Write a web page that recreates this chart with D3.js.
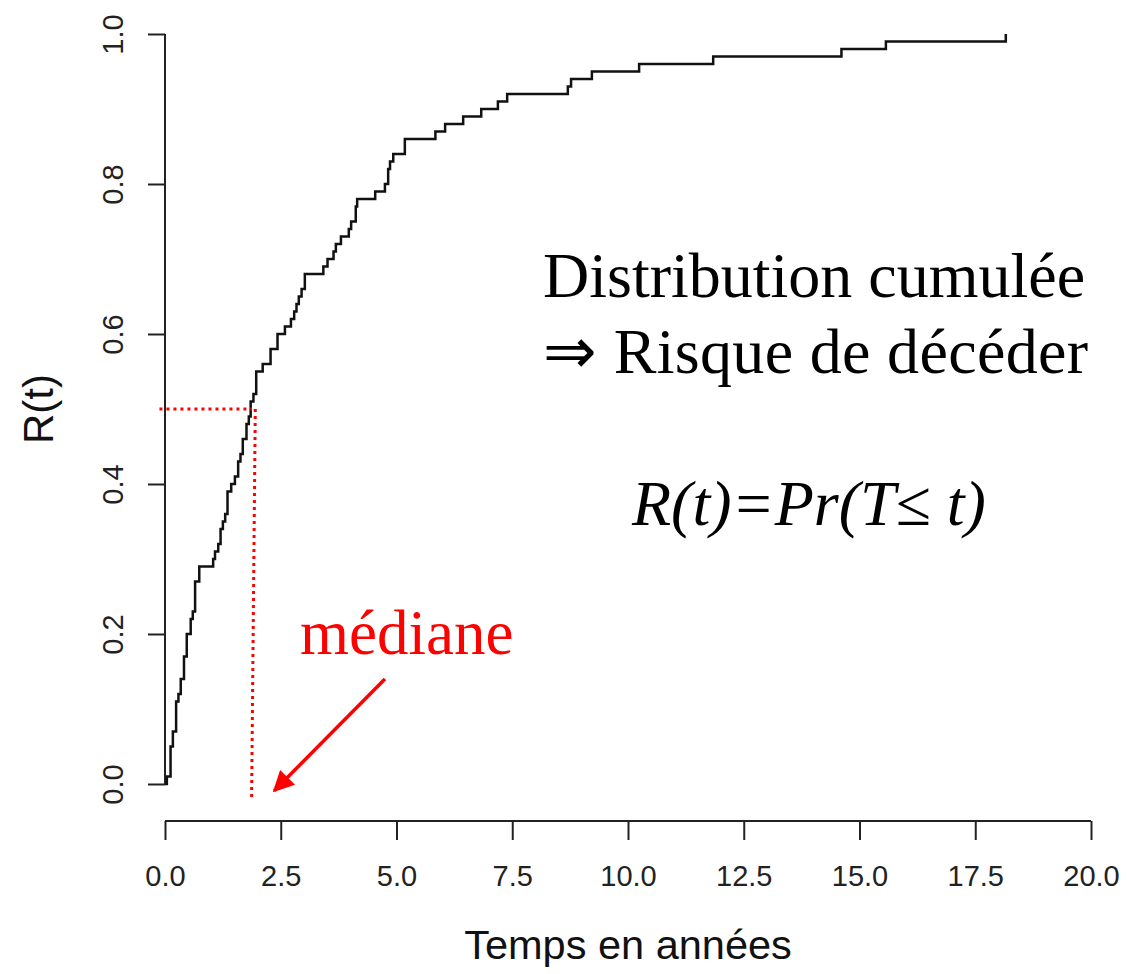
<!DOCTYPE html>
<html>
<head>
<meta charset="utf-8">
<script src="https://cdn.jsdelivr.net/npm/d3@7"></script>
<style>
  html, body { margin: 0; padding: 0; background: #fff; }
  svg { display: block; }
</style>
</head>
<body>
<svg id="chart" width="1127" height="974"></svg>
<script>
// ---- Data ----
const times = [0, 0.04, 0.12, 0.17, 0.24, 0.29, 0.34, 0.41, 0.47, 0.555, 0.6, 0.65, 0.74, 1.04, 1.08, 1.15, 1.20, 1.25, 1.30, 1.35, 1.43, 1.51, 1.58, 1.63, 1.68, 1.76, 1.81, 1.85, 1.91, 1.97, 2.11, 2.28, 2.43, 2.59, 2.72, 2.79, 2.84, 2.89, 2.95, 3.02, 3.42, 3.51, 3.64, 3.69, 3.80, 3.97, 4.02, 4.12, 4.15, 4.54, 4.75, 4.82, 4.86, 4.93, 5.18, 5.84, 6.05, 6.44, 6.83, 7.19, 7.39, 8.70, 8.77, 9.22, 10.24, 11.84, 14.61, 15.57, 18.16];
const risk = [0, 0.01, 0.05, 0.07, 0.11, 0.12, 0.14, 0.17, 0.20, 0.22, 0.23, 0.27, 0.29, 0.30, 0.31, 0.32, 0.34, 0.35, 0.36, 0.39, 0.40, 0.41, 0.43, 0.44, 0.46, 0.48, 0.49, 0.51, 0.52, 0.55, 0.56, 0.58, 0.60, 0.61, 0.62, 0.63, 0.64, 0.65, 0.66, 0.68, 0.69, 0.70, 0.71, 0.72, 0.73, 0.74, 0.75, 0.77, 0.78, 0.79, 0.80, 0.82, 0.83, 0.84, 0.86, 0.87, 0.88, 0.89, 0.90, 0.91, 0.92, 0.93, 0.94, 0.95, 0.96, 0.97, 0.98, 0.99, 1.0];
const xTicks = [0, 2.5, 5, 7.5, 10, 12.5, 15, 17.5, 20];
const yTicks = [0, 0.2, 0.4, 0.6, 0.8, 1.0];
const medianT = 1.9;
const medianR = 0.5;
const xTitle = "Temps en années";
const yTitle = "R(t)";
const textLine1 = "Distribution cumulée";
const textLine2 = "\u21D2 Risque de décéder";
const formula = "R(t)=Pr(T\u2264 t)";
const medianLabel = "médiane";

// ---- Layout ----
const svg = d3.select("#chart");
const x = d3.scaleLinear().domain([0, 20]).range([165, 1091]);
const y = d3.scaleLinear().domain([0, 1]).range([784, 34]);
const axisFont = "'Liberation Sans', Arial, sans-serif";
const serif = "'Liberation Serif', 'Times New Roman', serif";

// X axis (R style, offset below plot)
const xAxisG = svg.append("g").attr("transform", "translate(0,821)")
  .call(d3.axisBottom(x).tickValues(xTicks).tickSize(19).tickPadding(37)
    .tickFormat(d3.format(".1f")));
xAxisG.select(".domain").attr("d", `M${x(0)},0H${x(20)}`);
xAxisG.selectAll("path, line").attr("stroke", "#222").attr("stroke-width", 2);
xAxisG.selectAll("text").attr("font-family", axisFont).attr("font-size", 29)
  .attr("fill", "#222").attr("dy", "0.32em");

// Y axis
const yAxisG = svg.append("g").attr("transform", `translate(${x(0)},0)`)
  .call(d3.axisLeft(y).tickValues(yTicks).tickSize(17).tickPadding(0)
    .tickFormat(d3.format(".1f")));
yAxisG.select(".domain").attr("d", `M0,${y(0)}V${y(1)}`);
yAxisG.selectAll("path, line").attr("stroke", "#222").attr("stroke-width", 2);
yAxisG.selectAll(".tick text")
  .attr("font-family", axisFont).attr("font-size", 29).attr("fill", "#222")
  .attr("text-anchor", "middle").attr("x", null).attr("dy", null)
  .attr("transform", "translate(-52,0) rotate(-90)")
  .attr("dominant-baseline", "central");

// Axis titles
svg.append("text").attr("x", 628).attr("y", 959)
  .attr("text-anchor", "middle").attr("font-family", axisFont)
  .attr("font-size", 41.5).attr("fill", "#111").text(xTitle);
svg.append("text").attr("transform", `translate(53,${y(0.5)}) rotate(-90)`)
  .attr("text-anchor", "middle").attr("font-family", axisFont)
  .attr("font-size", 42).attr("fill", "#111").text(yTitle);

// Step curve
const pts = times.map((t, i) => [t, risk[i]]);
svg.append("path").datum(pts)
  .attr("d", d3.line().x(d => x(d[0])).y(d => y(d[1])).curve(d3.curveStepAfter))
  .attr("fill", "none").attr("stroke", "#111").attr("stroke-width", 2.5);

// Median dotted lines
const red = "#ff0000";
svg.append("line")
  .attr("x1", x(-0.12)).attr("y1", y(medianR)).attr("x2", x(medianT - 0.02)).attr("y2", y(medianR))
  .attr("stroke", red).attr("stroke-width", 3).attr("stroke-dasharray", "3,4");
svg.append("line")
  .attr("x1", x(medianT + 0.05)).attr("y1", y(medianR)).attr("x2", x(medianT - 0.03)).attr("y2", y(-0.021))
  .attr("stroke", red).attr("stroke-width", 3).attr("stroke-dasharray", "3,4");

// Arrow
svg.append("defs").append("marker").attr("id", "ah")
  .attr("viewBox", "0 0 10 10").attr("refX", 9).attr("refY", 5)
  .attr("markerWidth", 7).attr("markerHeight", 6).attr("markerUnits", "strokeWidth")
  .attr("orient", "auto")
  .append("path").attr("d", "M0,0 L10,5 L0,10 Z").attr("fill", red);
svg.append("line")
  .attr("x1", x(4.75)).attr("y1", y(0.14)).attr("x2", x(2.36)).attr("y2", y(-0.009))
  .attr("stroke", red).attr("stroke-width", 3.5).attr("marker-end", "url(#ah)");

// Annotations
svg.append("text").attr("x", 300).attr("y", 654).attr("font-family", serif)
  .attr("font-size", 63).attr("fill", red).text(medianLabel);
svg.append("text").attr("x", 543).attr("y", 297).attr("font-family", serif)
  .attr("font-size", 64).attr("fill", "#000").text(textLine1);
svg.append("text").attr("x", 543).attr("y", 373).attr("font-family", serif)
  .attr("font-size", 64).attr("fill", "#000")
  .attr("textLength", 545).attr("lengthAdjust", "spacing").text(textLine2);
svg.append("text").attr("x", 632).attr("y", 525).attr("font-family", serif)
  .attr("font-style", "italic")
  .attr("font-size", 64).attr("fill", "#000").text(formula);
</script>
</body>
</html>
